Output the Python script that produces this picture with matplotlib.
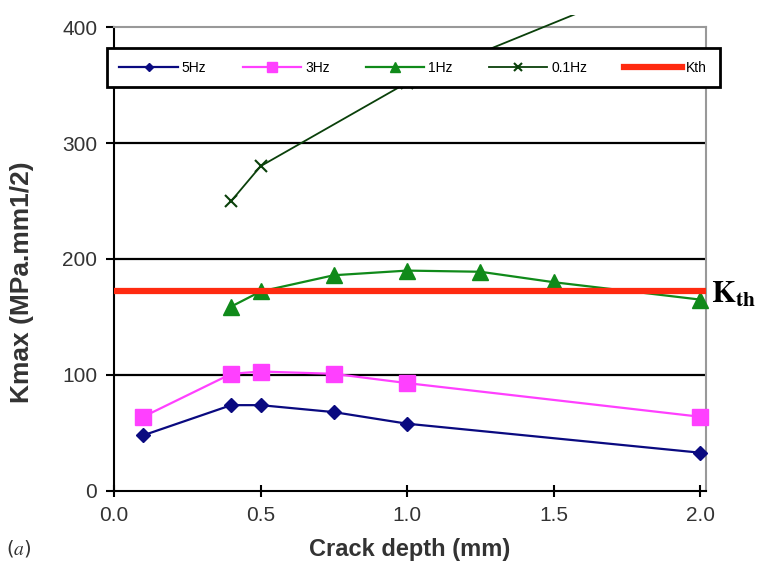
import matplotlib
matplotlib.use("Agg")
import matplotlib.pyplot as plt
from matplotlib.patches import Rectangle

plt.rcParams['font.family'] = ['Liberation Sans', 'DejaVu Sans']
plt.rcParams['mathtext.fontset'] = 'stix'

# data
x_5hz = [0.1, 0.4, 0.5, 0.75, 1.0, 2.0]
y_5hz = [48, 74, 74, 68, 58, 33]
x_3hz = [0.1, 0.4, 0.5, 0.75, 1.0, 2.0]
y_3hz = [64, 101, 103, 101, 93, 64]
x_1hz = [0.4, 0.5, 0.75, 1.0, 1.25, 1.5, 2.0]
y_1hz = [159, 172, 186, 190, 189, 180, 165]
x_01hz = [0.4, 0.5, 1.0, 2.0]
y_01hz = [250, 280, 352, 455]
kth = 172
labels = ['5Hz', '3Hz', '1Hz', '0.1Hz', 'Kth']
xticks = [0.0, 0.5, 1.0, 1.5, 2.0]
xticklabels = ['0.0', '0.5', '1.0', '1.5', '2.0']
yticks = [0, 100, 200, 300, 400]

fig = plt.figure(figsize=(7.6, 5.76), dpi=100)
ax = fig.add_axes([0.15, 0.1476, 0.779, 0.8055])
ax.set_xlim(0, 2.02)
ax.set_ylim(0, 400)

for y in [100, 200, 300]:
    ax.axhline(y, color='black', lw=1.6, zorder=1)

l1, = ax.plot(x_5hz, y_5hz, color='#0a0a80', marker='D', ms=7, lw=1.6, label=labels[0], zorder=3, clip_on=False)
l2, = ax.plot(x_3hz, y_3hz, color='#ff40ff', marker='s', ms=11, lw=1.6, label=labels[1], zorder=3, clip_on=False)
l3, = ax.plot(x_1hz, y_1hz, color='#108a1a', marker='^', ms=11, lw=1.6, label=labels[2], zorder=3, clip_on=False)
l4, = ax.plot(x_01hz, y_01hz, color='#0a400a', marker='x', ms=9, mew=1.5, lw=1.3, label=labels[3], zorder=3)
clip = Rectangle((0, -0.05), 1.0, 1.0 + 0.05 + 12 / 464, transform=ax.transAxes, visible=False)
ax.add_patch(clip)
l4.set_clip_path(clip)
l5 = ax.axhline(kth, color='#ff2a10', lw=4.5, label=labels[4], zorder=4)

for s in ['left', 'bottom']:
    ax.spines[s].set_color('black')
    ax.spines[s].set_linewidth(1.5)
for s in ['right', 'top']:
    ax.spines[s].set_color('#999999')
    ax.spines[s].set_linewidth(1.5)

ax.set_xticks(xticks)
ax.set_xticklabels(xticklabels)
ax.set_yticks(yticks)
ax.tick_params(direction='inout', length=9, width=1.5, labelsize=15, colors='black', labelcolor='#333333', pad=6)
ax.tick_params(axis='y', direction='out', length=6)

ax.set_xlabel('Crack depth (mm)', fontsize=17, fontweight='bold', color='#333333', labelpad=10)
ax.set_ylabel('Kmax (MPa.mm1/2)', fontsize=19, fontweight='bold', color='#333333')
ax.yaxis.set_label_coords(-0.135, 0.45)

leg = ax.legend(handles=[l1, l2, l3, l4, l5], ncol=5, loc='center left', mode='expand',
                bbox_to_anchor=(-0.012, 0.869, 1.035, 0.086), fontsize=10, frameon=True,
                fancybox=False, edgecolor='black', framealpha=1.0, handlelength=4.2,
                borderpad=0.9, handletextpad=0.3, markerscale=0.6, borderaxespad=0)
leg.get_frame().set_linewidth(2.0)
leg.set_zorder(5)

fig.text(0.935, 0.488, r'$\mathbf{K}_{\mathbf{th}}$', fontsize=22, va='center', ha='left')
fig.text(0.008, 0.038, r'($a$)', fontsize=14, color='#333333', family='DejaVu Sans')

fig.savefig('out.png', dpi=100)
